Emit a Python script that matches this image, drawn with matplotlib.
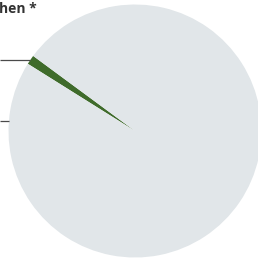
import numpy as np
import matplotlib
matplotlib.use("Agg")
import matplotlib.pyplot as plt

# pie data (share in percent)
labels = ["hen *", "other"]
values = [1.2, 98.8]
colors = ["#3f6b2b", "#e1e6e9"]

W, H = 258, 264
CX, CY, R = 135, 133, 126.5
START = 143.6
LINE_COLOR = "#4a4a4a"

fig = plt.figure(figsize=(W / 100, H / 100), dpi=100)
ax = fig.add_axes([0, 0, 1, 1])

wedges, _ = ax.pie(
    values,
    colors=colors,
    startangle=START,
    center=(CX, CY),
    radius=R,
    wedgeprops=dict(linewidth=0, antialiased=True),
)
ax.set_xlim(0, W)
ax.set_ylim(0, H)
ax.set_aspect("equal")
ax.axis("off")

# leader line for the small wedge: from its outer midpoint to the left edge
w = wedges[0]
mid = np.deg2rad((w.theta1 + w.theta2) / 2)
px = CX + R * np.cos(mid)
py = CY + R * np.sin(mid)
ax.plot([0, px], [py, py], color=LINE_COLOR, lw=0.9, solid_capstyle="butt")

# leader line for the big wedge, hitting the pie edge on the left
ang = np.deg2rad(175.5)
gy = CY + R * np.sin(ang)
gx = CX + R * np.cos(ang)
ax.plot([0, gx], [gy, gy], color=LINE_COLOR, lw=0.9, solid_capstyle="butt")

# cropped label text at top left
ax.text(-1, H - 13, labels[0], ha="left", va="baseline",
        fontsize=10, fontweight="bold", color="#333333",
        family=["Open Sans", "DejaVu Sans"])

fig.savefig("out.png", dpi=100)
